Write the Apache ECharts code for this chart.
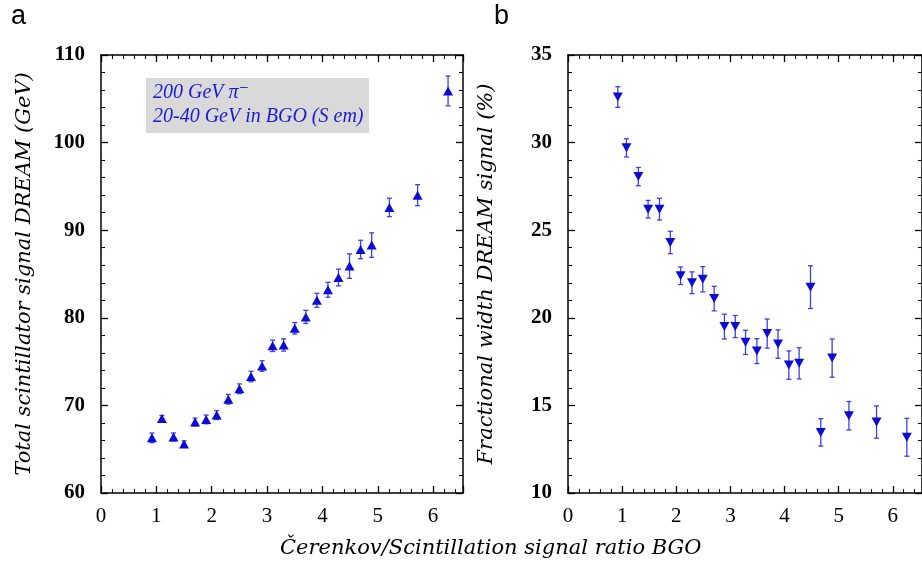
<!DOCTYPE html>
<html><head><meta charset="utf-8">
<script src="https://cdn.jsdelivr.net/npm/echarts@6/dist/echarts.min.js"></script>
<style>html,body{margin:0;padding:0;background:#fff}#c{width:922px;height:572px}</style>
</head><body><div id="c"></div>
<script>
// ---- Panel a: total scintillator signal vs C/S ratio ----
const ratioA = [0.92,1.10,1.31,1.50,1.70,1.90,2.09,2.30,2.50,2.71,2.91,3.10,3.30,3.50,3.70,3.90,4.10,4.29,4.49,4.69,4.89,5.21,5.72,6.27];
const signalA = [66.3,68.5,66.4,65.6,68.1,68.4,68.9,70.7,71.9,73.3,74.5,76.8,76.9,78.8,80.1,82.0,83.2,84.6,85.9,87.8,88.3,92.6,94.0,105.9];
const errA = [0.55,0.35,0.45,0.35,0.45,0.5,0.5,0.55,0.55,0.6,0.6,0.65,0.7,0.65,0.75,0.8,0.85,0.95,1.4,1.05,1.4,1.05,1.2,1.7];
// ---- Panel b: fractional width vs C/S ratio ----
const ratioB = [0.92,1.08,1.30,1.48,1.69,1.89,2.08,2.29,2.49,2.70,2.89,3.09,3.28,3.49,3.68,3.88,4.08,4.27,4.48,4.67,4.88,5.19,5.70,6.26];
const widthB = [32.6,29.7,28.06,26.2,26.2,24.3,22.4,22.0,22.2,21.1,19.5,19.5,18.6,18.1,19.1,18.5,17.3,17.4,21.75,13.46,17.7,14.41,14.05,13.18];
const errB = [0.59,0.52,0.52,0.5,0.62,0.64,0.5,0.62,0.72,0.7,0.71,0.63,0.69,0.71,0.83,0.81,0.81,0.89,1.22,0.78,1.09,0.81,0.92,1.08];
// ---- texts ----
const xTitle = 'Čerenkov/Scintillation signal ratio BGO';
const yTitleA = 'Total scintillator signal DREAM (GeV)';
const yTitleB = 'Fractional width DREAM signal (%)';
const legendLines = ['200 GeV π⁻', '20-40 GeV in BGO (S em)'];

const MARK = '#0b0bd6', ERR = '#3f3fe4';
const serif = '"Liberation Serif","DejaVu Serif",serif';
const wideSerif = '"DejaVu Serif","Liberation Serif",serif';

function pts(xs, ys) { return xs.map((x, i) => [x, ys[i]]); }
function errData(xs, ys, es) { return xs.map((x, i) => [x, ys[i] - es[i], ys[i] + es[i]]); }

function errSeries(xi, yi, data) {
  return {
    type: 'custom', xAxisIndex: xi, yAxisIndex: yi, data: data, z: 2,
    renderItem: function (params, api) {
      const x = api.value(0);
      const lo = api.coord([x, api.value(1)]);
      const hi = api.coord([x, api.value(2)]);
      const cw = 2.5;
      const st = { stroke: ERR, lineWidth: 1.3 };
      return { type: 'group', children: [
        { type: 'line', shape: { x1: lo[0], y1: lo[1], x2: hi[0], y2: hi[1] }, style: st },
        { type: 'line', shape: { x1: lo[0]-cw, y1: lo[1], x2: lo[0]+cw, y2: lo[1] }, style: st },
        { type: 'line', shape: { x1: hi[0]-cw, y1: hi[1], x2: hi[0]+cw, y2: hi[1] }, style: st }
      ]};
    }
  };
}

const axisLine = { show: true, onZero: false, lineStyle: { color: '#000', width: 1.5 } };
function xAx(grid, pos, labels) {
  return {
    type: 'value', gridIndex: grid, position: pos, min: 0, max: 6.54, interval: 1,
    axisLine: axisLine,
    axisTick: { show: true, inside: true, length: 7, lineStyle: { color: '#000', width: 1.3 } },
    minorTick: { show: true, splitNumber: 5, length: 4, lineStyle: { color: '#000', width: 1.1 } },
    splitLine: { show: false },
    axisLabel: labels ? { show: true, margin: 13, color: '#000', fontFamily: serif, fontSize: 21,
      showMaxLabel: false, formatter: v => (Math.abs(v - Math.round(v)) < 1e-6 ? String(Math.round(v)) : '') } : { show: false }
  };
}
function yAx(grid, pos, min, max, interval, labels, name, nameGap) {
  return {
    type: 'value', gridIndex: grid, position: pos, min: min, max: max, interval: interval,
    axisLine: axisLine,
    axisTick: { show: true, inside: true, length: 7, lineStyle: { color: '#000', width: 1.3 } },
    minorTick: { show: true, splitNumber: 5, length: 4, lineStyle: { color: '#000', width: 1.1 } },
    splitLine: { show: false },
    name: name || '', nameLocation: 'middle', nameGap: nameGap || 0,
    nameTextStyle: { fontFamily: wideSerif, fontStyle: 'italic', fontSize: 21, color: '#000' },
    axisLabel: labels ? { show: true, margin: 16, color: '#000', fontFamily: serif, fontWeight: 'bold', fontSize: 21 } : { show: false }
  };
}

const chart = echarts.init(document.getElementById('c'), null, { renderer: 'canvas' });
chart.setOption({
  animation: false,
  backgroundColor: '#fff',
  grid: [
    { left: 101, top: 55, width: 362, height: 438 },
    { left: 568, top: 55, width: 360, height: 438 }
  ],
  xAxis: [ xAx(0, 'bottom', true), xAx(0, 'top', false), xAx(1, 'bottom', true), xAx(1, 'top', false) ],
  yAxis: [
    yAx(0, 'left', 60, 110, 10, true, yTitleA, 66),
    yAx(0, 'right', 60, 110, 10, false),
    yAx(1, 'left', 10, 35, 5, true, yTitleB, 71),
    yAx(1, 'right', 10, 35, 5, false)
  ],
  series: [
    errSeries(0, 0, errData(ratioA, signalA, errA)),
    { type: 'scatter', xAxisIndex: 0, yAxisIndex: 0, data: pts(ratioA, signalA), symbol: 'triangle',
      symbolSize: [10, 9], itemStyle: { color: MARK, opacity: 1 }, z: 3 },
    errSeries(2, 2, errData(ratioB, widthB, errB)),
    { type: 'scatter', xAxisIndex: 2, yAxisIndex: 2, data: pts(ratioB, widthB), symbol: 'triangle',
      symbolRotate: 180, symbolSize: [10, 9], itemStyle: { color: MARK, opacity: 1 }, z: 3 }
  ],
  graphic: [
    { type: 'text', left: 11, top: 3, style: { text: 'a', font: '27px "Liberation Sans", Arial, sans-serif', fill: '#000' } },
    { type: 'text', left: 494, top: 3, style: { text: 'b', font: '27px "Liberation Sans", Arial, sans-serif', fill: '#000' } },
    { type: 'rect', shape: { x: 146, y: 78, width: 223, height: 55 }, style: { fill: '#d9d9d9' }, z: 1 },
    { type: 'text', x: 153, y: 93, z: 5, style: { text: legendLines[0], font: 'italic 20px ' + serif, fill: '#1a1ad2', verticalAlign: 'middle' } },
    { type: 'text', x: 153, y: 117, z: 5, style: { text: legendLines[1], font: 'italic 20px ' + serif, fill: '#1a1ad2', verticalAlign: 'middle' } },
    { type: 'text', x: 280, y: 549, z: 5, style: { text: xTitle, font: 'italic 21px ' + wideSerif, fill: '#000', align: 'left', verticalAlign: 'middle' } }
  ]
});
</script></body></html>
